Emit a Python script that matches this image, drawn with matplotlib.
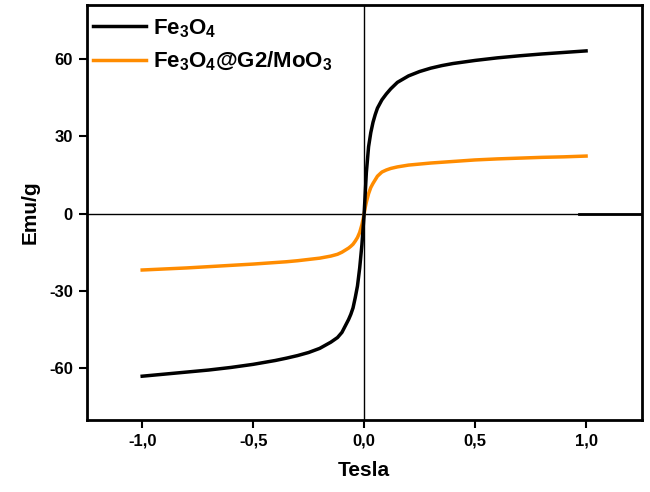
import matplotlib
matplotlib.use('Agg')
from matplotlib import pyplot as plt
from matplotlib.ticker import FuncFormatter

# field (Tesla) and magnetisation (emu/g)
fe_x = [-1.0, -0.9, -0.8, -0.7, -0.6, -0.5, -0.4, -0.35, -0.3, -0.25, -0.2, -0.15, -0.12,
        -0.1, -0.07, -0.06, -0.05, -0.04, -0.03, -0.02, -0.01, -0.005, 0.0,
        0.005, 0.01, 0.02, 0.03, 0.04, 0.05, 0.06, 0.08, 0.1, 0.12, 0.15, 0.2,
        0.25, 0.3, 0.35, 0.4, 0.5, 0.6, 0.7, 0.8, 0.9, 1.0]
fe_y = [-63.0, -62.2, -61.4, -60.6, -59.6, -58.4, -56.9, -56.0, -55.0, -53.8, -52.2, -49.8, -48.0,
        -46.0, -41.0, -39.0, -36.5, -32.5, -28.0, -21.0, -12.0, -6.0, 0.0,
        8.0, 16.0, 26.0, 31.5, 35.5, 38.5, 41.0, 44.2, 46.5, 48.5, 51.0, 53.5,
        55.2, 56.5, 57.5, 58.3, 59.5, 60.5, 61.3, 62.0, 62.6, 63.2]

mo_x = fe_x
mo_y = [-21.8, -21.4, -21.0, -20.5, -20.0, -19.5, -18.9, -18.6, -18.2, -17.7, -17.2, -16.4, -15.7,
        -14.9, -13.3, -12.6, -11.8, -10.6, -9.2, -7.2, -4.2, -2.2, 0.0,
        2.5, 4.5, 7.8, 10.2, 11.8, 13.2, 14.6, 16.2, 17.0, 17.6, 18.2, 18.9,
        19.3, 19.7, 20.0, 20.3, 20.9, 21.3, 21.6, 21.9, 22.1, 22.4]

x_ticks = [-1.0, -0.5, 0.0, 0.5, 1.0]
y_ticks = [-60, -30, 0, 30, 60]

plt.rcParams['font.family'] = ['Liberation Sans', 'DejaVu Sans']
plt.rcParams['font.weight'] = 'bold'
plt.rcParams['mathtext.fontset'] = 'custom'
plt.rcParams['mathtext.rm'] = 'Liberation Sans:bold'
plt.rcParams['mathtext.bf'] = 'Liberation Sans:bold'
plt.rcParams['mathtext.default'] = 'bf'

fig = plt.figure(figsize=(6.5, 4.92), dpi=100)
ax = fig.add_axes([0.1334, 0.1463, 0.8536, 0.8435])

ax.axvline(0, color='black', lw=1.0, zorder=1)
ax.axhline(0, color='black', lw=1.0, zorder=1)
ax.axhline(0, xmin=0.888, xmax=1.0, color='black', lw=2.0, zorder=1)

ax.plot(fe_x, fe_y, color='black', lw=2.5, label=r'Fe$_3$O$_4$', zorder=3)
ax.plot(mo_x, mo_y, color='#FF8C00', lw=2.5, label=r'Fe$_3$O$_4$@G2/MoO$_3$', zorder=2)

ax.set_xlim(-1.25, 1.25)
ax.set_ylim(-80, 81)
ax.set_xticks(x_ticks)
ax.set_yticks(y_ticks)
ax.xaxis.set_major_formatter(FuncFormatter(lambda v, p: f'{v:.1f}'.replace('.', ',')))
ax.yaxis.set_major_formatter(FuncFormatter(lambda v, p: f'{v:.0f}'))
ax.tick_params(direction='out', length=6, width=1.5, labelsize=12, pad=4)
for s in ax.spines.values():
    s.set_linewidth(2)

ax.set_xlabel('Tesla', fontsize=15, fontweight='bold', labelpad=9)
ax.set_ylabel('Emu/g', fontsize=15, fontweight='bold', labelpad=7)

leg = ax.legend(loc='upper left', frameon=False, fontsize=16, handlelength=2.4,
                handletextpad=0.3, borderpad=0.2, borderaxespad=0.35, labelspacing=0.45,
                bbox_to_anchor=(-0.011, 1.0))

fig.savefig('out.png', dpi=100)
